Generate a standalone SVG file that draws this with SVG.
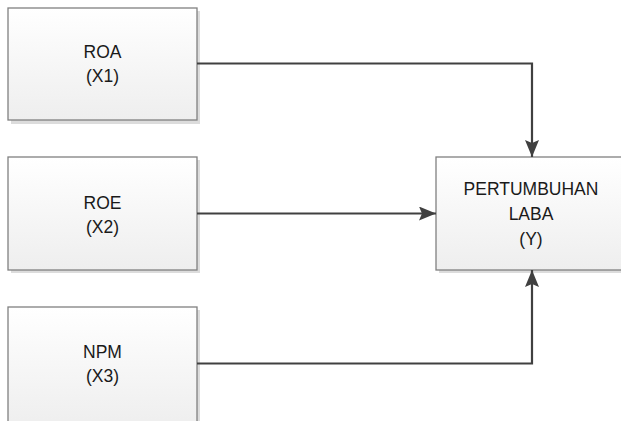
<svg xmlns="http://www.w3.org/2000/svg" width="621" height="421" viewBox="0 0 621 421">
<defs>
<linearGradient id="g" x1="0" y1="0" x2="0" y2="1">
<stop offset="0" stop-color="#ffffff"/>
<stop offset="1" stop-color="#eeeeee"/>
</linearGradient>
<marker id="ah" viewBox="0 0 17 14" refX="17" refY="7" markerWidth="17" markerHeight="14" markerUnits="userSpaceOnUse" orient="auto">
<path d="M0,0 L17,7 L0,14 L3,7 Z" fill="#404040"/>
</marker>
<style>
.sh{fill:#dcdcdc}
.bx{fill:url(#g);stroke:#808080;stroke-width:1.3}
.t{font-family:"Liberation Sans",Arial,sans-serif;font-size:17.5px;fill:#1a1a1a;text-anchor:middle}
.c{fill:none;stroke:#404040;stroke-width:2.2}
</style>
</defs>
<rect width="621" height="421" fill="#ffffff"/>
<g id="roa">
<rect class="sh" x="11" y="11" width="189" height="113"/>
<rect class="bx" x="8" y="8" width="189" height="112"/>
<text class="t" x="102.5" y="58">ROA</text>
<text class="t" x="102.5" y="82">(X1)</text>
</g>
<g id="roe">
<rect class="sh" x="11" y="160" width="189" height="113"/>
<rect class="bx" x="8" y="157" width="189" height="113"/>
<text class="t" x="102.5" y="209">ROE</text>
<text class="t" x="102.5" y="233">(X2)</text>
</g>
<g id="npm">
<rect class="sh" x="11" y="310" width="189" height="120"/>
<rect class="bx" x="8" y="307" width="189" height="120"/>
<text class="t" x="102.5" y="358">NPM</text>
<text class="t" x="102.5" y="382">(X3)</text>
</g>
<g id="laba">
<rect class="sh" x="439" y="160" width="189" height="113"/>
<rect class="bx" x="436" y="157" width="189" height="113"/>
<text class="t" x="531" y="195">PERTUMBUHAN</text>
<text class="t" x="531" y="220">LABA</text>
<text class="t" x="531" y="245">(Y)</text>
</g>
<g id="connectors">
<path class="c" d="M197,63.5 H532 V157" marker-end="url(#ah)"/>
<path class="c" d="M197,213.5 H436" marker-end="url(#ah)"/>
<path class="c" d="M197,363.5 H532 V270" marker-end="url(#ah)"/>
</g>
</svg>
